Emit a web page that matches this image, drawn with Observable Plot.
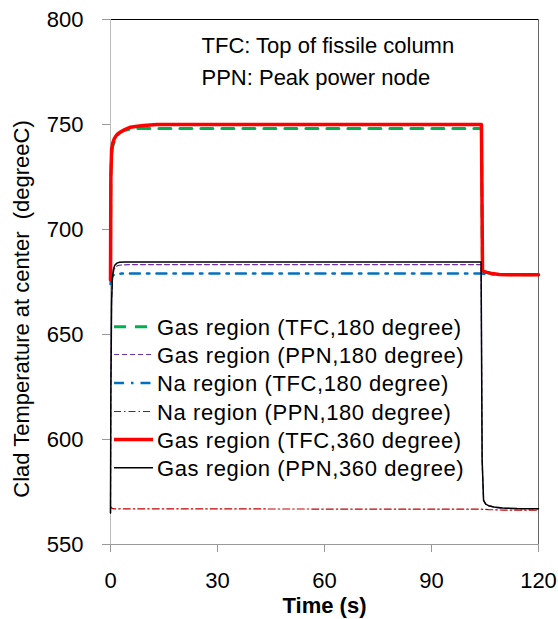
<!DOCTYPE html>
<html><head><meta charset="utf-8">
<script src="https://cdn.jsdelivr.net/npm/d3@7"></script>
<script src="https://cdn.jsdelivr.net/npm/@observablehq/plot@0.6"></script>
<style>
body{margin:0;background:#fff;}
svg text{white-space:pre;}
</style></head><body><div id="wrap"></div>
<script>
// ---- data ----
const xTicks = [0, 30, 60, 90, 120];
const yTicks = [550, 600, 650, 700, 750, 800];
const seriesNames = [
  "Gas region (TFC,180 degree)",
  "Gas region (PPN,180 degree)",
  "Na region (TFC,180 degree)",
  "Na region (PPN,180 degree)",
  "Gas region (TFC,360 degree)",
  "Gas region (PPN,360 degree)"
];
const tGasTFC180 = [0, 0.1, 0.3, 0.6, 1, 1.5, 2, 2.8, 4, 5.6, 8, 104, 104.3, 105, 107, 109, 112, 120];
const vGasTFC180 = [676, 724, 736, 739.5, 741.5, 743.5, 745, 746.3, 747.3, 747.8, 748.1, 748.1, 680.5, 679.8, 679, 678.6, 678.5, 678.5];
const tGasPPN180 = [0, 0.1, 0.3, 0.6, 1, 1.5, 2, 3, 5, 103.9, 104.2, 104.6, 105.2, 106, 108, 110, 114, 120];
const vGasPPN180 = [565, 625, 666, 677.5, 681, 682.3, 682.8, 683.1, 683.3, 683.3, 590, 571, 569.2, 568.5, 567.6, 567.3, 567, 566.9];
const tNaTFC180 = [0, 0.2, 0.5, 1, 2, 3, 104, 104.5, 106, 110, 120];
const vNaTFC180 = [674, 676.5, 677.8, 678.5, 678.9, 679, 679, 678.9, 678.7, 678.5, 678.5];
const tNaPPN180 = [0, 0.3, 1, 104, 106, 110, 120];
const vNaPPN180 = [568.5, 567.3, 567, 566.8, 566.6, 566.4, 566.3];
const tGasTFC360 = [0, 0.1, 0.3, 0.6, 1, 1.5, 2, 2.8, 4, 5.6, 7.5, 9.3, 13, 104, 104.3, 105, 107, 109, 112, 120];
const vGasTFC360 = [676, 725, 738, 741, 743, 744.5, 745.5, 746.4, 747.6, 748.7, 749.2, 749.5, 750, 750, 680.5, 679.8, 679, 678.6, 678.5, 678.5];
const tGasPPN360 = [0, 0.1, 0.3, 0.5, 0.8, 1.2, 1.8, 2.5, 4, 103.9, 104.2, 104.6, 105.2, 106, 107.5, 110, 114, 120];
const vGasPPN360 = [565, 620, 665, 676, 681, 683, 684, 684.4, 684.5, 684.5, 590, 571, 569.2, 568.5, 567.9, 567.4, 567.1, 567];
const notes = ["TFC: Top of fissile column", "PPN: Peak power node"];

// ---- styles ----
const styles = [
  {stroke: "#00b050", width: 3, dash: "12,9"},
  {stroke: "#7030a0", width: 1.2, dash: "5,3"},
  {stroke: "#0070c0", width: 2.5, dash: "10,7,2.5,7"},
  {stroke: "#c00000", width: 1.2, dash: "7,3,1.5,3"},
  {stroke: "#ff0000", width: 3.5, dash: null},
  {stroke: "#000000", width: 1.5, dash: null}
];
const seriesT = [tGasTFC180, tGasPPN180, tNaTFC180, tNaPPN180, tGasTFC360, tGasPPN360];
const seriesV = [vGasTFC180, vGasPPN180, vNaTFC180, vNaPPN180, vGasTFC360, vGasPPN360];
const rows = seriesNames.map((name, i) => seriesT[i].map((t, j) => ({series: name, t, v: seriesV[i][j]})));

const font = "'Liberation Sans', Arial, sans-serif";
const lineMarks = rows.map((data, i) => Plot.line(data, {
  x: "t", y: "v",
  stroke: styles[i].stroke,
  strokeWidth: styles[i].width,
  strokeDasharray: styles[i].dash,
  strokeLinejoin: "round"
}));

const chart = Plot.plot({
  width: 558, height: 619,
  marginLeft: 110, marginRight: 20, marginTop: 19, marginBottom: 75,
  style: {fontFamily: font, fontSize: "22px", background: "white", color: "black"},
  x: {domain: [0, 120]},
  y: {domain: [550, 800]},
  marks: [
    Plot.ruleY([800], {stroke: "#000"}),
    Plot.ruleX([120], {stroke: "#666"}),
    Plot.ruleX([0], {stroke: "#bbb"}),
    Plot.ruleY([550], {stroke: "#999"}),
    Plot.axisX(xTicks, {tickSize: 8, tickPadding: 20, stroke: "#999", fill: "black", label: null, fontSize: 22}),
    Plot.axisY(yTicks, {tickSize: 8, tickPadding: 19, stroke: "#999", fill: "black", label: null, fontSize: 22}),
    ...lineMarks,
    Plot.text([notes[0]], {text: d => d, frameAnchor: "top-left", dx: 91, dy: 26, textAnchor: "start", lineAnchor: "middle", fontSize: 22}),
    Plot.text([notes[1]], {text: d => d, frameAnchor: "top-left", dx: 91, dy: 58, textAnchor: "start", lineAnchor: "middle", fontSize: 22}),
    Plot.text(["Clad Temperature at center  (degreeC)"], {text: d => d, frameAnchor: "left", rotate: -90, dx: -89, dy: 27, textAnchor: "middle", lineAnchor: "middle", fontSize: 22}),
    Plot.text(["Time (s)"], {text: d => d, frameAnchor: "bottom", dy: 61, textAnchor: "middle", lineAnchor: "middle", fontSize: 22, fontWeight: "bold"})
  ]
});

// legend (inside plot area, no box)
const svg = d3.select(chart);
const leg = svg.append("g").attr("font-family", font).attr("font-size", 22).attr("text-anchor", "start");
const rowY = [326.7, 354.5, 383, 411.5, 439.5, 467.7];
seriesNames.forEach((name, i) => {
  leg.append("line")
    .attr("x1", 114).attr("x2", 153).attr("y1", rowY[i]).attr("y2", rowY[i])
    .attr("stroke", styles[i].stroke).attr("stroke-width", styles[i].width)
    .attr("stroke-dasharray", styles[i].dash);
  leg.append("text")
    .attr("x", 157).attr("y", rowY[i] + 8)
    .attr("text-anchor", "start")
    .attr("letter-spacing", "0.6px")
    .attr("fill", "black")
    .text(name);
});

document.getElementById("wrap").appendChild(chart);
</script>
</body></html>
